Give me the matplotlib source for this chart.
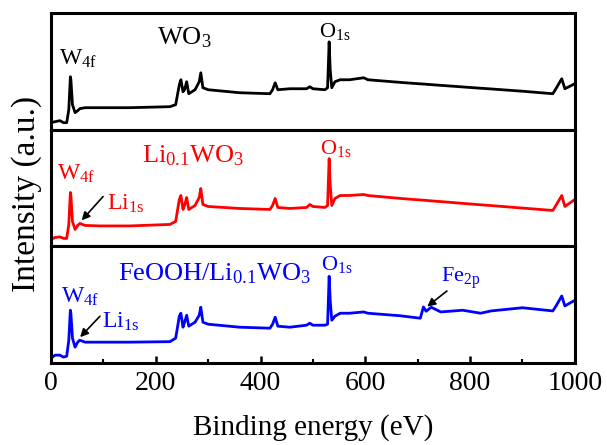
import numpy as np
import matplotlib
matplotlib.use('Agg')
import matplotlib.pyplot as plt

plt.rcParams['font.family'] = ['Liberation Serif', 'DejaVu Serif']
plt.rcParams['mathtext.fontset'] = 'custom'
plt.rcParams['mathtext.rm'] = 'Liberation Serif'
plt.rcParams['mathtext.it'] = 'Liberation Serif:italic'

# binding energy grid (eV)
energy = [0, 8, 17, 24, 30, 34, 37, 38, 41, 46, 51, 55, 65, 93, 150, 227, 238, 245, 248, 252,
          255, 259, 263, 275, 283, 286, 290, 300, 360, 418, 423, 428, 433, 456, 488, 494, 500,
          523, 528, 531, 533, 536, 542, 552, 570, 597, 605, 666, 705, 711, 716, 726, 744, 786,
          820, 840, 900, 958, 965, 975, 981, 1000]

# intensities (a.u.) for each sample
wo3 = [7, 8, 9, 7, 7, 20, 53, 50, 25, 17, 19, 21, 22, 22, 22, 23, 25, 45, 50, 38,
       40, 48, 36, 40, 48, 57, 42, 40, 37, 36, 40, 47, 40, 41, 41, 43, 41,
       40, 42, 88, 60, 42, 48, 50, 50, 52, 50, 47.4, 45.9, 45.7, 45.5, 45.1, 44.4, 42.8,
       41.5, 40.8, 38.5, 36, 42, 51, 41, 46]
li_wo3 = [7, 9, 9.5, 8, 8, 22, 54, 51, 25, 17, 21, 23, 21, 20.5, 20.5, 22, 25, 47, 51, 37,
          41, 49, 37, 41, 49, 58, 42, 40, 38, 37, 41, 48, 39, 38, 39, 42, 40,
          39, 41, 88, 62, 41, 48, 51, 51, 52, 51, 48.1, 46.5, 46.3, 46.1, 45.6, 44.9, 43.1,
          41.7, 40.9, 38.4, 36, 42, 51, 40, 47]
feooh = [5, 8, 8, 6, 7, 23, 53, 50, 25, 16, 21, 23, 21, 21, 21, 21.5, 25, 47, 50, 36,
         41, 48, 37, 41, 48, 56, 41, 39, 36, 35, 39, 46, 37, 36, 38, 40, 38,
         38, 39, 87, 63, 43, 47, 50, 50, 51.3, 50, 47.5, 45, 56.3, 52, 56, 51.3, 53,
         50, 52.3, 55.5, 52.3, 58, 67.3, 57.3, 63]

fig = plt.figure(figsize=(6.07, 4.45), dpi=100)
gs = fig.add_gridspec(3, 1, left=0.084, right=0.947, top=0.971, bottom=0.184, hspace=0)
axes = [fig.add_subplot(gs[i]) for i in range(3)]

series = [(wo3, 'black'), (li_wo3, 'red'), (feooh, 'blue')]
for ax, (vals, col) in zip(axes, series):
    ax.plot(energy, vals, color=col, lw=2.0)
    ax.set_xlim(0, 1000)
    ax.set_ylim(0, 117)
    ax.set_yticks([])
    for s in ax.spines.values():
        s.set_linewidth(2.2)
    ax.tick_params(axis='x', which='both', direction='in', top=False, bottom=False,
                   labelbottom=False)

bot = axes[2]
bot.set_xticks(np.arange(0, 1001, 200))
bot.set_xticks(np.arange(100, 1000, 200), minor=True)
bot.tick_params(axis='x', which='major', bottom=True, labelbottom=True, length=5,
                width=1.8, labelsize=20, pad=6)
bot.tick_params(axis='x', which='minor', bottom=True, length=3, width=1.5)
bot.set_xlabel('Binding energy (eV)', fontsize=21, labelpad=13)

fig.text(0.044, 1 - 194 / 445, 'Intensity (a.u.)', rotation=90, fontsize=24,
         ha='center', va='center')

# top panel labels
a = axes[0]
a.text(16, 65, r'W$_{\mathrm{4f}}$', fontsize=17, color='black', va='baseline')
a.text(203, 85, r'WO$_{\mathrm{3}}$', fontsize=19, color='black', va='baseline')
a.text(512, 93, r'O$_{\mathrm{1s}}$', fontsize=16, color='black', va='baseline')

# middle panel labels
a = axes[1]
a.text(12, 67, r'W$_{\mathrm{4f}}$', fontsize=17, color='red', va='baseline')
a.text(106, 37, r'Li$_{\mathrm{1s}}$', fontsize=17, color='red', va='baseline')
a.text(174, 84, r'Li$_{\mathrm{0.1}}$WO$_{\mathrm{3}}$', fontsize=19, color='red', va='baseline')
a.text(513, 93, r'O$_{\mathrm{1s}}$', fontsize=16, color='red', va='baseline')
a.annotate('', xy=(55, 24), xytext=(103, 52),
           arrowprops=dict(arrowstyle='-|>', color='black', lw=1.2, mutation_scale=12))

# bottom panel labels
a = axes[2]
a.text(19, 61, r'W$_{\mathrm{4f}}$', fontsize=17, color='blue', va='baseline')
a.text(98, 35, r'Li$_{\mathrm{1s}}$', fontsize=17, color='blue', va='baseline')
a.text(128, 83, r'FeOOH/Li$_{\mathrm{0.1}}$WO$_{\mathrm{3}}$', fontsize=19, color='blue',
       va='baseline')
a.text(515, 93, r'O$_{\mathrm{1s}}$', fontsize=16, color='blue', va='baseline')
a.text(745, 81, r'Fe$_{\mathrm{2p}}$', fontsize=16, color='blue', va='baseline')
a.annotate('', xy=(52, 24), xytext=(97, 49),
           arrowprops=dict(arrowstyle='-|>', color='black', lw=1.2, mutation_scale=12))
a.annotate('', xy=(714, 55), xytext=(760, 74),
           arrowprops=dict(arrowstyle='-|>', color='black', lw=1.2, mutation_scale=12))

fig.savefig('out.png', dpi=100)
